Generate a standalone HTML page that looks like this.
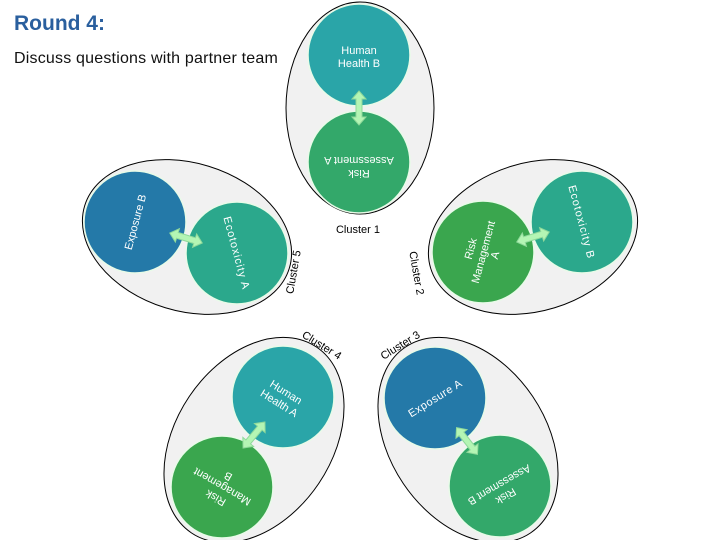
<!DOCTYPE html>
<html><head><meta charset="utf-8"><style>
html,body{margin:0;padding:0;background:#fff;width:720px;height:540px;overflow:hidden}
svg{display:block}
</style></head><body>
<svg width="720" height="540" viewBox="0 0 720 540" xmlns="http://www.w3.org/2000/svg" font-family="Liberation Sans, sans-serif">
<defs>
<g id="arr">
<polygon points="-17,0 -9,-7 -9,-3 9,-3 9,-7 17,0 9,7 9,3 -9,3 -9,7" fill="#b4f5b4" stroke="#8fd99a" stroke-width="1"/>
</g>
</defs>
<text x="14" y="30" font-size="21" font-weight="bold" fill="#2a5f9e">Round 4:</text>
<text x="14" y="63" font-size="16" fill="#111" letter-spacing="0.2">Discuss questions with partner team</text>

<g stroke="#e8fbe8" stroke-width="1.5">
<!-- Cluster 1 -->
<ellipse cx="360" cy="108" rx="74" ry="106" fill="#f1f1f1" stroke="#000" stroke-width="1"/>
<circle cx="359" cy="55" r="51" fill="#2aa5a8"/>
<circle cx="359" cy="162" r="51" fill="#33a86a"/>

<!-- Cluster 5 -->
<ellipse cx="187" cy="237" rx="107" ry="74" transform="rotate(17 187 237)" fill="#f1f1f1" stroke="#000" stroke-width="1"/>
<circle cx="135" cy="222" r="51" fill="#2479a8"/>
<circle cx="237" cy="253" r="51" fill="#2ba88c"/>

<!-- Cluster 2 -->
<ellipse cx="533" cy="237" rx="107" ry="74" transform="rotate(-17 533 237)" fill="#f1f1f1" stroke="#000" stroke-width="1"/>
<circle cx="483" cy="252" r="51" fill="#3aa64e"/>
<circle cx="582" cy="222" r="51" fill="#2ba88c"/>

<!-- Cluster 4 -->
<ellipse cx="254" cy="440" rx="112" ry="78" transform="rotate(-56 254 440)" fill="#f1f1f1" stroke="#000" stroke-width="1"/>
<circle cx="283" cy="397" r="51" fill="#2aa5a8"/>
<circle cx="222" cy="487" r="51" fill="#3aa64e"/>

<!-- Cluster 3 -->
<ellipse cx="468" cy="440" rx="112" ry="78" transform="rotate(56 468 440)" fill="#f1f1f1" stroke="#000" stroke-width="1"/>
<circle cx="435" cy="398" r="51" fill="#2479a8"/>
<circle cx="500" cy="486" r="51" fill="#33a86a"/>
</g>

<use href="#arr" transform="translate(359,108) rotate(90)"/>
<text x="359" y="54" font-size="11" fill="#fff" text-anchor="middle">Human</text>
<text x="359" y="67" font-size="11" fill="#fff" text-anchor="middle">Health B</text>
<g transform="translate(359,162) rotate(180)" font-size="11" fill="#fff" text-anchor="middle">
<text x="0" y="-8">Risk</text><text x="0" y="5">Assessment A</text></g>
<text x="358" y="233" font-size="11" fill="#000" text-anchor="middle">Cluster 1</text>

<use href="#arr" transform="translate(186,238) rotate(17)"/>
<text transform="translate(135,222) rotate(-75)" font-size="11" fill="#fff" text-anchor="middle" y="4">Exposure B</text>
<text transform="translate(237,253) rotate(75)" font-size="11" fill="#fff" text-anchor="middle" y="4" letter-spacing="1">Ecotoxicity A</text>
<text transform="translate(293,272) rotate(-80)" font-size="11" fill="#000" text-anchor="middle" y="4">Cluster 5</text>

<use href="#arr" transform="translate(533,237) rotate(-17)"/>
<g transform="translate(483,252) rotate(-75)" font-size="11" fill="#fff" text-anchor="middle">
<text y="-9">Risk</text><text y="4">Management</text><text y="16">A</text></g>
<text transform="translate(582,222) rotate(75)" font-size="11" fill="#fff" text-anchor="middle" y="4" letter-spacing="1">Ecotoxicity B</text>
<text transform="translate(417,273) rotate(80)" font-size="11" fill="#000" text-anchor="middle" y="4">Cluster 2</text>

<use href="#arr" transform="translate(254,435) rotate(-50)"/>
<g transform="translate(283,397) rotate(32)" font-size="11" fill="#fff" text-anchor="middle">
<text y="-2">Human</text><text y="11">Health A</text></g>
<g transform="translate(222,487) rotate(210)" font-size="11" fill="#fff" text-anchor="middle">
<text y="-9">Risk</text><text y="4">Management</text><text y="16">B</text></g>
<text transform="translate(322,345) rotate(32)" font-size="11" fill="#000" text-anchor="middle" y="4">Cluster 4</text>

<use href="#arr" transform="translate(467,441) rotate(52)"/>
<text transform="translate(435,398) rotate(-32)" font-size="11" fill="#fff" text-anchor="middle" y="4" letter-spacing="0.5">Exposure A</text>
<g transform="translate(500,486) rotate(150)" font-size="11" fill="#fff" text-anchor="middle">
<text y="-8">Risk</text><text y="5">Assessment B</text></g>
<text transform="translate(400,345) rotate(-32)" font-size="11" fill="#000" text-anchor="middle" y="4">Cluster 3</text>
</svg>
</body></html>
